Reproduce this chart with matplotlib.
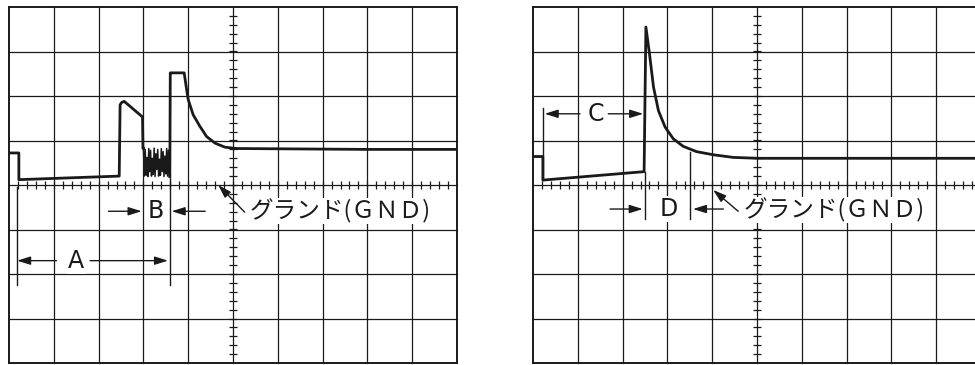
import matplotlib
matplotlib.use('Agg')
from matplotlib import pyplot as plt
import numpy as np

plt.rcParams['font.family'] = ['Noto Sans CJK JP', 'DejaVu Sans']

# waveform values in screen divisions (x: 0..10, y: -4..4, GND = 0)
left_x = [0.0, 0.22, 0.22, 2.46, 2.48, 2.51, 2.57, 2.70, 2.85, 2.98, 2.99]
left_y = [0.72, 0.72, 0.12, 0.20, 1.80, 1.85, 1.88, 1.77, 1.64, 1.53, 0.82]

# ringing section between the two peaks
osc_x = [3.00, 3.02, 3.04, 3.06, 3.08, 3.10, 3.12, 3.14, 3.16, 3.18,
         3.20, 3.22, 3.24, 3.26, 3.28, 3.30, 3.32, 3.34, 3.36, 3.38,
         3.40, 3.42, 3.44, 3.46, 3.48, 3.50, 3.52, 3.54, 3.56, 3.58]
osc_y = [0.82, 0.20, 0.80, 0.22, 0.62, 0.19, 0.82, 0.30, 0.78, 0.20,
         0.60, 0.24, 0.83, 0.19, 0.70, 0.35, 0.80, 0.20, 0.58, 0.22,
         0.82, 0.30, 0.75, 0.19, 0.65, 0.25, 0.82, 0.20, 0.78, 0.19]

tail_x = [3.59, 3.60, 3.63, 3.91, 3.97, 4.00, 4.11, 4.26, 4.41, 4.60, 4.82, 5.08, 6.50, 8.00, 10.0]
tail_y = [0.19, 2.52, 2.52, 2.52, 2.11, 1.92, 1.58, 1.32, 1.09, 0.94, 0.85, 0.82, 0.81, 0.80, 0.80]

right_x = [0.0, 0.22, 0.22, 2.48, 2.52, 2.60, 2.69, 2.80, 2.95, 3.13, 3.35, 3.65, 4.02, 4.47, 5.03, 6.50, 8.00, 10.0]
right_y = [0.64, 0.64, 0.11, 0.30, 3.55, 2.95, 2.20, 1.67, 1.30, 1.04, 0.87, 0.75, 0.68, 0.62, 0.60, 0.60, 0.60, 0.60]

gnd_label = 'グランド(ＧＮＤ)'

# dimension marks: (label, x of label, y of row, arrows as (tail_x, head_x))
left_marks = [('B', 3.28, -0.59, [(2.22, 2.96), (4.38, 3.63)]),
              ('A', 1.50, -1.70, [(1.06, 0.18), (1.81, 3.55)])]
right_marks = [('C', 1.41, 1.60, [(1.05, 0.26), (1.68, 2.46)]),
               ('D', 3.04, -0.54, [(1.72, 2.45), (4.25, 3.57)])]
# extension lines: (x, y_top, y_bottom)
left_ext = [(0.17, -0.04, -2.25), (3.59, 0.15, -2.25)]
right_ext = [(0.23, 1.72, 0.11), (2.49, 0.30, -0.76), (3.50, 0.74, -0.76)]
# GND leader: (head, tail, text x, text y)
left_gnd = ((4.67, 0.0), (5.26, -0.61), 5.36, -0.59)
right_gnd = ((4.02, -0.11), (4.58, -0.59), 4.70, -0.57)

INK = '#1a1a1a'


def draw_screen(ax):
    """oscilloscope graticule, 10 x 8 divisions"""
    ax.set_xlim(0, 10)
    ax.set_ylim(-4, 4)
    ax.axis('off')
    for x in range(11):
        lw = 1.4 if x in (0, 10) else 0.9
        ax.plot([x, x], [-4, 4], color=INK, lw=lw, clip_on=False, zorder=1)
    for y in range(-4, 5):
        lw = 1.4 if y in (-4, 4) else 0.9
        ax.plot([0, 10], [y, y], color=INK, lw=lw, clip_on=False, zorder=1)
    # 0.2 div ticks on the centre lines
    tx = np.arange(0.2, 10, 0.2)
    ax.vlines(tx, -0.09, 0.09, color=INK, lw=0.9, zorder=1)
    ty = np.arange(-3.8, 4, 0.2)
    ax.hlines(ty, 4.91, 5.09, color=INK, lw=0.9, zorder=1)


def arrow(ax, tail, head, lw=1.0):
    ax.annotate('', xy=head, xytext=tail,
                arrowprops=dict(arrowstyle='-|>,head_length=0.8,head_width=0.25',
                                color=INK, lw=lw, shrinkA=0, shrinkB=0),
                zorder=4)


def draw_marks(ax, marks, ext, gnd):
    for label, lx, ly, arrows in marks:
        for t, h in arrows:
            arrow(ax, (t, ly), (h, ly))
        ax.text(lx, ly, label, fontsize=17, family=['DejaVu Sans'], ha='center', va='center',
                color=INK, zorder=5,
                bbox=dict(facecolor='white', edgecolor='none', pad=1.0))
    for x, y0, y1 in ext:
        ax.plot([x, x], [y0, y1], color=INK, lw=1.0, zorder=4)
    head, tail, tx, ty = gnd
    arrow(ax, tail, head)
    ax.text(tx, ty, gnd_label, fontsize=17, ha='left', va='center', color=INK, zorder=5,
            bbox=dict(facecolor='white', edgecolor='none', pad=0.5))


fig = plt.figure(figsize=(9.75, 3.65), dpi=100)
ax1 = fig.add_axes([9 / 975, 2 / 365, 448 / 975, 356 / 365])
ax2 = fig.add_axes([533 / 975, 2 / 365, 448 / 975, 356 / 365])

draw_screen(ax1)
ax1.plot(left_x + osc_x[:1], left_y + osc_y[:1], color=INK, lw=2.0, zorder=3)
ax1.plot(osc_x, osc_y, color=INK, lw=1.1, zorder=3)
ax1.plot(tail_x, tail_y, color=INK, lw=2.0, zorder=3)
draw_marks(ax1, left_marks, left_ext, left_gnd)

draw_screen(ax2)
ax2.plot(right_x, right_y, color=INK, lw=2.0, zorder=3)
draw_marks(ax2, right_marks, right_ext, right_gnd)

plt.savefig('out.png', dpi=100)
